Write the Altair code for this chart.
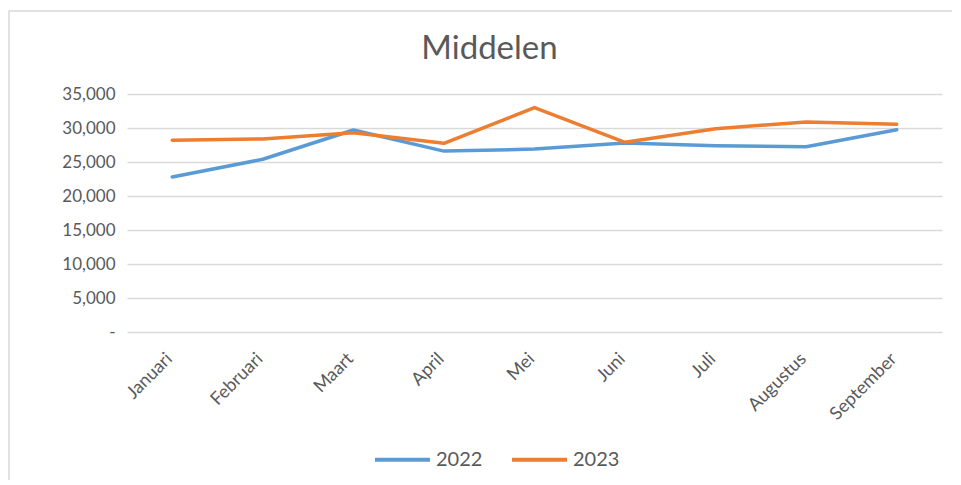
import altair as alt
import pandas as pd

months = ["Januari", "Februari", "Maart", "April", "Mei", "Juni", "Juli", "Augustus", "September"]
v2022 = [22800, 25400, 29700, 26600, 26900, 27800, 27400, 27250, 29750]
v2023 = [28200, 28400, 29300, 27750, 33000, 27900, 29900, 30900, 30550]
series = ["2022", "2023"]
y_ticks = [0, 5000, 10000, 15000, 20000, 25000, 30000, 35000]

rows = []
for s, vals in zip(series, [v2022, v2023]):
    for m, v in zip(months, vals):
        rows.append({"Maand": m, "Jaar": s, "Waarde": v})
df = pd.DataFrame(rows)

FONT = "Lato"
GREY = "#595959"

lines = alt.Chart(df).mark_line(strokeWidth=3.5, strokeCap="round", strokeJoin="round").encode(
    x=alt.X("Maand:N", sort=months, scale=alt.Scale(type="point", padding=0.5),
            axis=alt.Axis(title=None, labelAngle=-45, labelAlign="right", labelBaseline="middle",
                          labelFontSize=18, labelColor=GREY, labelFont=FONT, ticks=False,
                          domain=False, grid=False, labelPadding=24, labelOffset=-3)),
    y=alt.Y("Waarde:Q", scale=alt.Scale(domain=[0, 35000], nice=False),
            axis=alt.Axis(title=None, values=y_ticks,
                          labelExpr="datum.value == 0 ? '-' : format(datum.value, ',')",
                          labelFontSize=17, labelColor=GREY, labelFont=FONT, ticks=False,
                          domain=False, grid=True, gridColor="#D9D9D9", gridWidth=1.5,
                          labelPadding=12)),
    color=alt.Color("Jaar:N", scale=alt.Scale(domain=series, range=["#5B9BD5", "#ED7D31"]),
                    legend=alt.Legend(title=None, orient="none", direction="horizontal",
                                      legendX=246, legendY=336, symbolType="stroke",
                                      symbolSize=3025, symbolStrokeWidth=4, padding=0,
                                      labelFontSize=20, labelColor=GREY, labelFont=FONT,
                                      columnPadding=21, labelOffset=4)),
)

border = alt.Chart(pd.DataFrame({"a": [0]})).mark_rect(
    fill=None, stroke="#D9D9D9", strokeWidth=1.5
).encode(x=alt.value(-118), x2=alt.value(900), y=alt.value(-83), y2=alt.value(500))

chart = alt.layer(border, lines).properties(
    width=815, height=238,
    autosize=alt.AutoSizeParams(type="none"),
    padding={"left": 119, "top": 86, "right": 10, "bottom": 148},
    background="white",
    title=alt.TitleParams("Middelen", fontSize=33, font=FONT, color=GREY,
                          fontWeight="normal", anchor="middle", baseline="bottom",
                          offset=-55, dx=-45, dy=34),
).configure_view(stroke=None)

chart.save("out.html", embed_options={"renderer": "svg", "actions": False})
